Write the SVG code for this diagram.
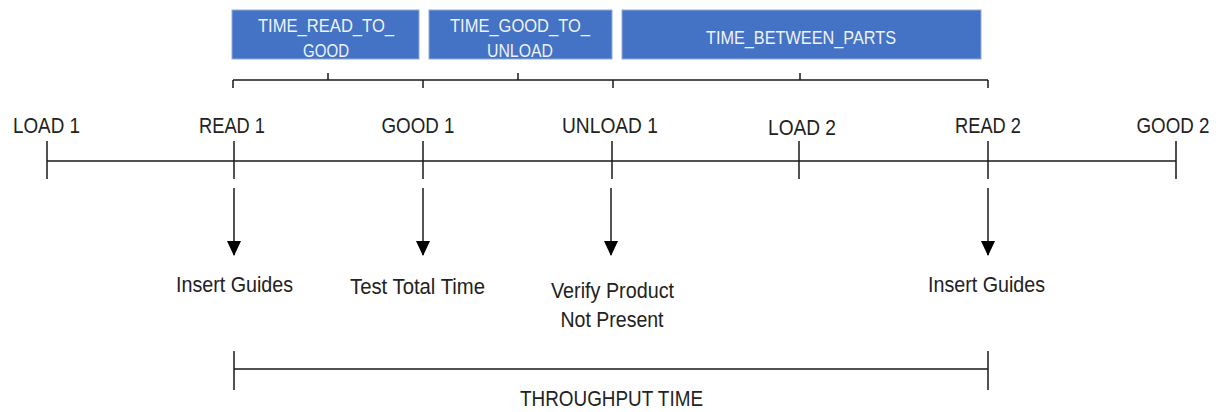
<svg xmlns="http://www.w3.org/2000/svg" width="1221" height="412" viewBox="0 0 1221 412">
<style>
.box{fill:#4472C4;stroke:#8FAADC;stroke-width:1}
.bt{font-family:"Liberation Sans",Arial,sans-serif;font-size:19px;fill:#EEF2FA;text-anchor:middle}
.lb{font-family:"Liberation Sans",Arial,sans-serif;font-size:22px;fill:#222;text-anchor:middle}
.ln{stroke:#1a1a1a;stroke-width:1.5;fill:none}
.ar{stroke:#1a1a1a;stroke-width:1.5;fill:none;marker-end:url(#ah)}
</style>
<defs>
<marker id="ah" viewBox="0 0 15 14" refX="14" refY="7" markerWidth="15" markerHeight="14" markerUnits="userSpaceOnUse" orient="auto">
<path d="M0,0 L15,7 L0,14 Z" fill="#000"/>
</marker>
</defs>
<rect width="1221" height="412" fill="#fff"/>
<g id="box-read-to-good"><rect class="box" x="232" y="10" width="187" height="49"/>
<text class="bt" x="326" y="32" textLength="136" lengthAdjust="spacingAndGlyphs">TIME_READ_TO_</text>
<text class="bt" x="326" y="57" textLength="46" lengthAdjust="spacingAndGlyphs">GOOD</text></g>
<g id="box-good-to-unload"><rect class="box" x="429" y="10" width="183" height="49"/>
<text class="bt" x="520" y="32" textLength="140" lengthAdjust="spacingAndGlyphs">TIME_GOOD_TO_</text>
<text class="bt" x="520" y="57" textLength="66" lengthAdjust="spacingAndGlyphs">UNLOAD</text></g>
<g id="box-between-parts"><rect class="box" x="622" y="10" width="359" height="49"/>
<text class="bt" x="801" y="44" textLength="190" lengthAdjust="spacingAndGlyphs">TIME_BETWEEN_PARTS</text></g>
<g id="labels">
<text class="lb" x="46.5" y="133" textLength="67" lengthAdjust="spacingAndGlyphs">LOAD 1</text>
<text class="lb" x="232" y="133" textLength="66" lengthAdjust="spacingAndGlyphs">READ 1</text>
<text class="lb" x="418" y="133" textLength="73" lengthAdjust="spacingAndGlyphs">GOOD 1</text>
<text class="lb" x="610" y="133" textLength="96" lengthAdjust="spacingAndGlyphs">UNLOAD 1</text>
<text class="lb" x="802" y="135" textLength="68" lengthAdjust="spacingAndGlyphs">LOAD 2</text>
<text class="lb" x="988" y="133" textLength="66" lengthAdjust="spacingAndGlyphs">READ 2</text>
<text class="lb" x="1173" y="133" textLength="73" lengthAdjust="spacingAndGlyphs">GOOD 2</text>
</g>
<g id="actions">
<text class="lb" x="234.5" y="292" textLength="117" lengthAdjust="spacingAndGlyphs">Insert Guides</text>
<text class="lb" x="417.5" y="294" textLength="135" lengthAdjust="spacingAndGlyphs">Test Total Time</text>
<text class="lb" x="612.5" y="298" textLength="123" lengthAdjust="spacingAndGlyphs">Verify Product</text>
<text class="lb" x="612" y="327" textLength="103" lengthAdjust="spacingAndGlyphs">Not Present</text>
<text class="lb" x="986.5" y="292" textLength="117" lengthAdjust="spacingAndGlyphs">Insert Guides</text>
<text class="lb" x="611.5" y="406" textLength="183" lengthAdjust="spacingAndGlyphs">THROUGHPUT TIME</text>
</g>
<g id="connectors">
<path class="ln" d="M47,161 H1176 M47,141 V179 M234,141 V179 M423,141 V179 M612,141 V179 M799,141 V179 M988,141 V179 M1176,141 V179"/>
<path class="ln" d="M233,80 H988 M233,80 V88 M423,80 V88 M613,80 V88 M988,80 V88 M328,73 V80 M518,73 V80 M800,73 V80"/>
<path class="ar" d="M234,188 V255"/>
<path class="ar" d="M423,188 V255"/>
<path class="ar" d="M611,188 V255"/>
<path class="ar" d="M988,188 V255"/>
<path class="ln" d="M234,369 H988 M234,351 V390 M988,351 V390"/>
</g>
</svg>
